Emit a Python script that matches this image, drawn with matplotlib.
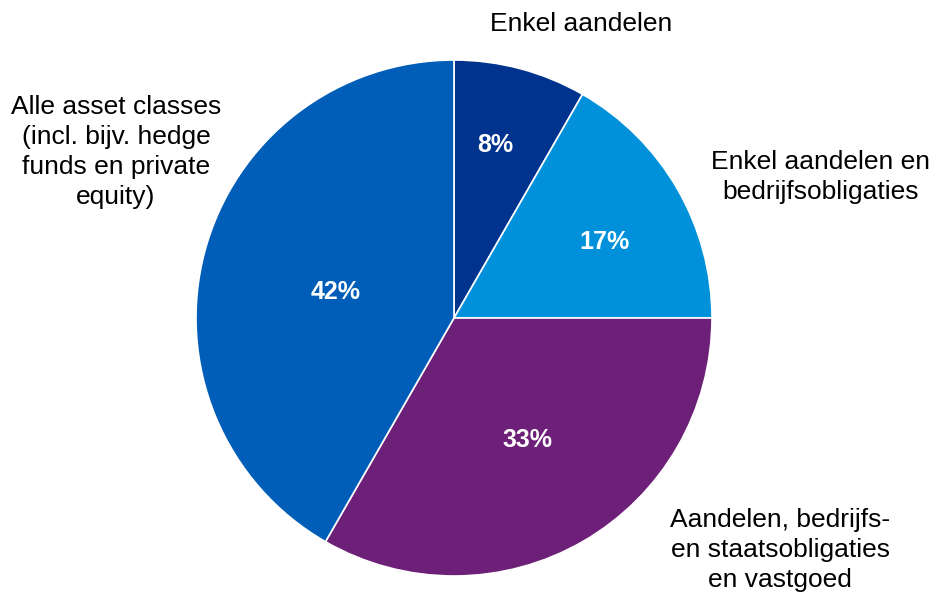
import matplotlib.pyplot as plt

plt.rcParams['font.family'] = ['Liberation Sans', 'DejaVu Sans']

labels = ['Enkel aandelen',
          'Enkel aandelen en\nbedrijfsobligaties',
          'Aandelen, bedrijfs-\nen staatsobligaties\nen vastgoed',
          'Alle asset classes\n(incl. bijv. hedge\nfunds en private\nequity)']
values = [8.3, 16.7, 33.3, 41.7]
pct_labels = ['8%', '17%', '33%', '42%']
colors = ['#00338D', '#0091DA', '#6D2077', '#005EB8']

fig = plt.figure(figsize=(9.4, 5.93), dpi=100)
ax = fig.add_axes([196 / 940, 17 / 593, 516 / 940, 516 / 593])

wedges, texts = ax.pie(values, colors=colors, startangle=90, counterclock=False,
                       radius=1, wedgeprops=dict(edgecolor='white', linewidth=1.2))

# label positions (data coords), placed like the original
pct_pos = [(0.159, 0.671), (0.585, 0.295), (0.283, -0.473), (-0.457, 0.101)]
lab_pos = [(0.492, 1.14), (1.419, 0.547), (1.264, -0.899), (-1.31, 0.643)]

for t, (x, y) in zip(pct_labels, pct_pos):
    ax.text(x, y, t, color='white', fontsize=18, fontweight='bold',
            ha='center', va='center')

for lab, (x, y) in zip(labels, lab_pos):
    ax.text(x, y, lab, fontsize=19, ha='center', va='center', color='black',
            linespacing=1.32)

ax.set_xlim(-1, 1)
ax.set_ylim(-1, 1)
ax.set_aspect('equal')
ax.axis('off')

fig.savefig('out.png', dpi=100)
